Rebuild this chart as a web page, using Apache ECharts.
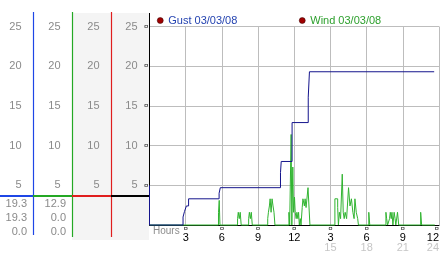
<!DOCTYPE html>
<html><head><meta charset="utf-8">
<script src="https://cdn.jsdelivr.net/npm/echarts@6/dist/echarts.min.js"></script>
<style>html,body{margin:0;padding:0;background:#fff}#c{width:442px;height:253px}</style>
</head><body><div id="c"></div>
<script>
// ---- data (hours since start of day, knots) ----
const gustHours = [0, 0, 2.78, 2.90, 3.06, 3.24, 5.77, 5.87, 10.86, 10.92, 11.82, 13.16, 13.26, 23.6];
const gustVals  = [5, 0, 1.0, 1.7, 2.4, 3.3, 4.0, 4.7, 6.6, 8.0, 12.9, 16.1, 19.3, 19.3];

const windHours = [0,
  5.72,5.78,5.84,
  7.30,7.36,7.44,7.52,7.60,
  8.22,8.28,8.36,8.44,8.52,
  9.80,9.86,9.94,10.00,10.08,10.16,10.24,10.32,10.40,
  11.56,11.62,11.74,11.80,11.88,11.94,12.02,12.08,12.16,12.22,12.30,12.36,12.42,
  12.50,12.56,
  12.66,12.72,12.84,12.90,12.98,13.06,13.14,13.30,
  15.37,15.60,15.66,15.74,15.84,15.98,16.06,16.14,16.22,16.34,16.50,16.62,16.74,16.86,16.96,17.03,17.14,17.26,17.32,
  18.18,18.26,
  19.60,19.66,19.74,
  19.90,19.96,20.04,20.10,20.18,
  20.28,20.36,20.42,
  20.56,20.66,
  22.48,22.56,
  23.65];
const windVals = [0,
  1.6,3.1,0,
  0.8,1.6,0.8,1.6,0,
  0.8,1.6,0.8,1.6,0,
  0.8,1.6,2.4,3.3,1.6,3.3,2.4,1.6,0,
  1.6,0,11.4,0,7.3,1.6,3.5,1.6,0.8,1.6,0.8,1.6,0,
  0.8,0,
  2.2,3.3,2.4,3.3,2.2,2.4,4.7,0,
  3.3,2.2,0,1.6,0.8,6.4,1.6,0.8,1.6,0.8,4.7,2.4,3.3,1.6,0.8,3.3,1.6,0.8,0,
  1.6,0,
  1.6,0.8,0,
  0.8,1.6,0.8,1.6,0,
  1.6,0.8,0,
  1.6,0,
  1.6,0,
  0];

const seriesNames = ['Gust 03/03/08', 'Wind 03/03/08'];
const xTickLabels  = {3:'3', 6:'6', 9:'9', 12:'12', 15:'3', 18:'6', 21:'9', 24:'12'};
const xTickLabels2 = {15:'15', 18:'18', 21:'21', 24:'24'};
const gustStats = ['19.3', '19.3', '0.0'];
const windStats = ['12.9', '0.0', '0.0'];
const levelMark = 3.6;

// ---- styles / layout ----
const FONT = 'Liberation Sans, Arial, sans-serif';
const C = {blue:'#1e46e6', green:'#24a824', red:'#e01e1e', gust:'#14148c', wind:'#30b430', grid:'#bdbdbd', lab:'#8a8a8a'};
const colX = [33.5, 72.5, 111.5, 149.5];

const gustData = gustHours.map((h, i) => [h, gustVals[i]]);
const windData = windHours.map((h, i) => [h, windVals[i]]);

const chart = echarts.init(document.getElementById('c'), null, {renderer: 'canvas'});

function yAxisCol(offset, showSplit) {
  return {
    type: 'value', min: 0, max: 25, interval: 5, position: 'left', offset: offset,
    axisLine: {show: false}, axisTick: {show: false},
    axisLabel: {formatter: v => v === 0 ? '' : String(v), color: C.lab, fontSize: 11, fontFamily: FONT, margin: 12},
    splitLine: {show: showSplit, lineStyle: {color: C.grid, width: 1}}
  };
}
function xAxisRow(fmt, margin, color, fs, extra) {
  return Object.assign({
    type: 'value', min: 0, max: 24, interval: 3, position: 'bottom',
    axisLine: {show: false}, axisTick: {show: false}, splitLine: {show: false},
    axisLabel: {formatter: fmt, margin: margin, color: color, fontSize: fs, fontFamily: FONT,
                showMinLabel: true, showMaxLabel: true, alignMaxLabel: 'right'}
  }, extra || {});
}

chart.setOption({
  animation: false,
  backgroundColor: '#fff',
  grid: {left: 149.5, top: 26.5, width: 290, height: 200, containLabel: false},
  legend: [
    {data: [seriesNames[0]], left: 157, top: 15, padding: 0, icon: 'circle', itemWidth: 6, itemHeight: 6,
     itemStyle: {color: '#a00000', borderColor: '#300', borderWidth: 0.5},
     textStyle: {color: '#2443b0', fontSize: 11, fontFamily: FONT}},
    {data: [seriesNames[1]], left: 299, top: 15, padding: 0, icon: 'circle', itemWidth: 6, itemHeight: 6,
     itemStyle: {color: '#a00000', borderColor: '#300', borderWidth: 0.5},
     textStyle: {color: '#2ea02e', fontSize: 11, fontFamily: FONT}}
  ],
  xAxis: [
    xAxisRow(v => xTickLabels[v] || '', 7, '#000', 11, {
      axisLine: {show: true, lineStyle: {color: '#000', width: 1}},
      splitLine: {show: true, lineStyle: {color: C.grid, width: 1}}
    }),
    xAxisRow(v => (xTickLabels[v] ? '¤' : ''), 0, '#222', 8),
    xAxisRow(v => xTickLabels2[v] || '', 17, '#c6c6c6', 11)
  ],
  yAxis: [
    yAxisCol(0, true),
    yAxisCol(38, false),
    yAxisCol(77, false),
    yAxisCol(116, false),
    Object.assign(yAxisCol(0, false), {axisLabel: {formatter: v => v === 0 ? '' : '¤', color: '#222', fontSize: 8, fontFamily: FONT, margin: 1}})
  ],
  series: [
    {name: seriesNames[1], type: 'line', step: 'end', data: windData, showSymbol: false, clip: false,
     lineStyle: {color: C.wind, width: 1}, itemStyle: {color: C.wind}, z: 3},
    {name: seriesNames[0], type: 'line', step: 'end', data: gustData, showSymbol: false, clip: false,
     lineStyle: {color: C.gust, width: 1}, itemStyle: {color: C.gust}, z: 4}
  ]
});

const yMark = Math.round(chart.convertToPixel({yAxisIndex: 0}, levelMark));
const yZero = chart.convertToPixel({yAxisIndex: 0}, 0);
const els = [];
els.push({type: 'rect', z: -10, shape: {x: 72, y: 13, width: 77, height: 227}, style: {fill: '#f4f4f4'}});
els.push({type: 'line', z: 5, shape: {x1: colX[0], y1: 12, x2: colX[0], y2: 235}, style: {stroke: C.blue, lineWidth: 1.2}});
els.push({type: 'line', z: 5, shape: {x1: colX[1], y1: 12, x2: colX[1], y2: 237}, style: {stroke: C.green, lineWidth: 1.2}});
els.push({type: 'line', z: 5, shape: {x1: colX[2], y1: 12, x2: colX[2], y2: 237}, style: {stroke: C.red, lineWidth: 1.2}});
els.push({type: 'line', z: 1, shape: {x1: colX[3], y1: 13, x2: colX[3], y2: yZero}, style: {stroke: '#000', lineWidth: 1}});
const markCols = [C.blue, C.green, C.red, '#000'];
const markEnds = [33, 72, 111, 149];
[0, 33, 72, 111].forEach((x0, i) => {
  els.push({type: 'line', z: 6, shape: {x1: x0, y1: yMark, x2: markEnds[i], y2: yMark}, style: {stroke: markCols[i], lineWidth: 2}});
});
const statY = [204, 218, 232];
gustStats.forEach((t, i) => els.push({type: 'text', z: 6, style: {text: t, x: 27, y: statY[i], align: 'right', verticalAlign: 'middle', fill: C.lab, font: '11px ' + FONT}}));
windStats.forEach((t, i) => els.push({type: 'text', z: 6, style: {text: t, x: 66, y: statY[i], align: 'right', verticalAlign: 'middle', fill: C.lab, font: '11px ' + FONT}}));
els.push({type: 'text', z: 6, style: {text: 'Hours', x: 153, y: 231, align: 'left', verticalAlign: 'middle', fill: '#8c8c8c', font: '10px ' + FONT}});
chart.setOption({graphic: {elements: els}});
</script></body></html>
